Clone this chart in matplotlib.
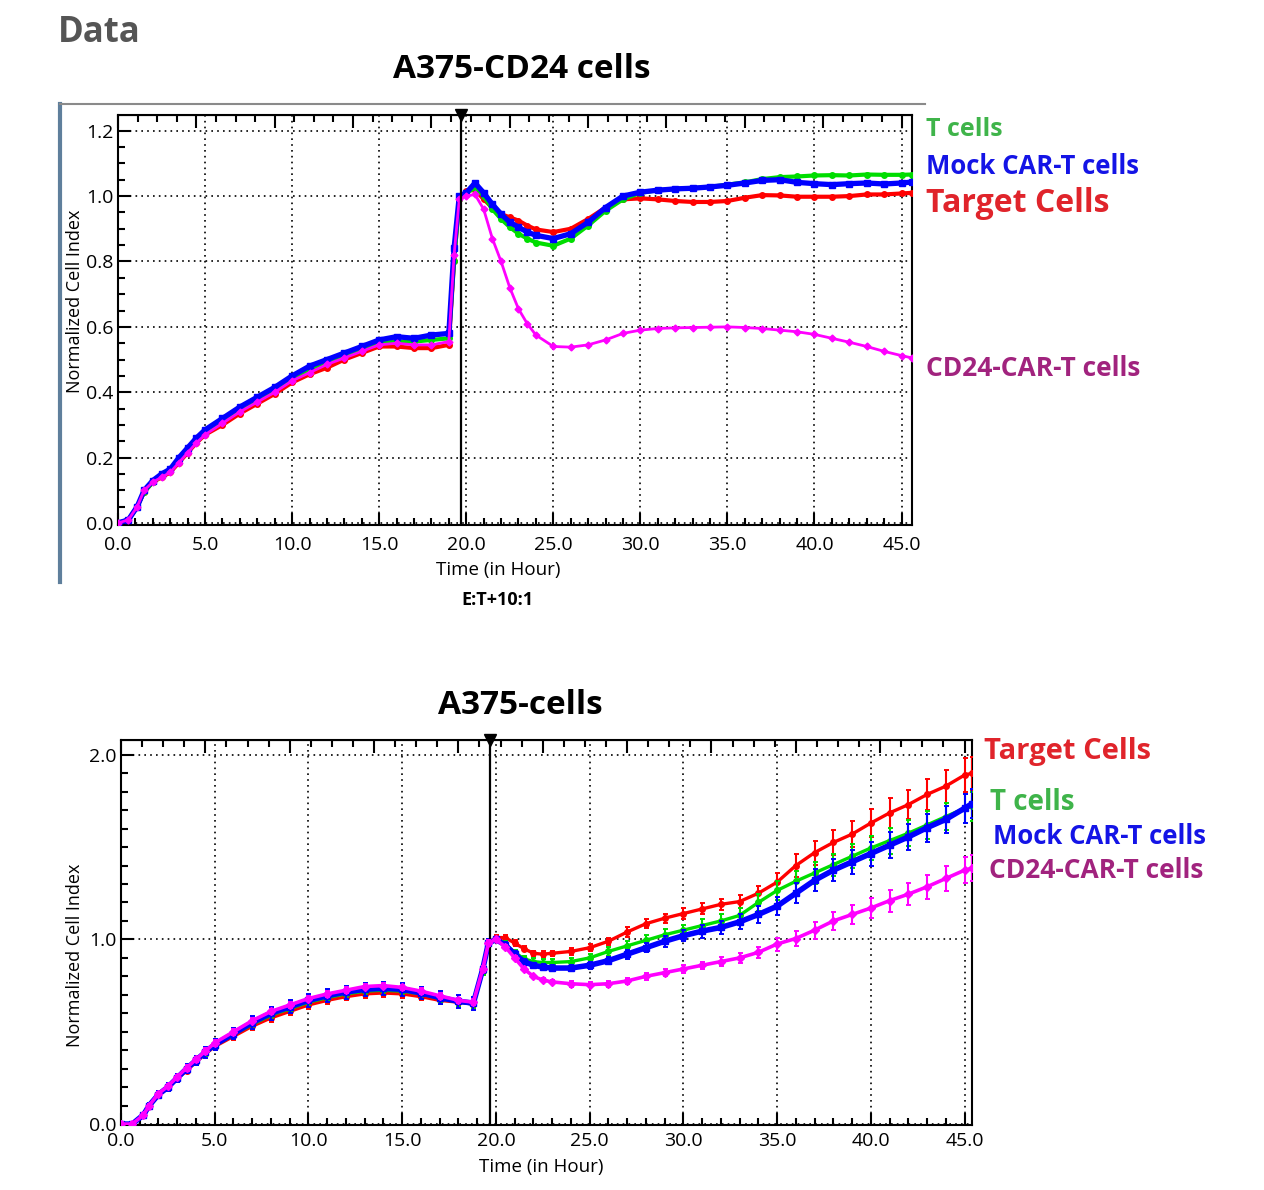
import numpy as np
import matplotlib
matplotlib.use("Agg")
import matplotlib.pyplot as plt
from matplotlib.ticker import MultipleLocator
from matplotlib.lines import Line2D

plt.rcParams['font.family'] = ['Open Sans', 'DejaVu Sans']

W, H = 1264, 1190

# ---- A375-CD24 cells (top panel), normalized cell index ----
t_cd24 = [0, 0.6, 1.1, 1.5, 2.0, 2.5, 3.0, 3.5, 4.0, 4.5,
          5.0, 6.0, 7.0, 8.0, 9.0, 10.0, 11.0, 12.0, 13.0, 14.0,
          15.0, 16.0, 17.0, 18.0, 19.0, 19.3, 19.6, 20.0, 20.5, 21.0,
          21.5, 22.0, 22.5, 23.0, 23.5, 24.0, 25.0, 26.0, 27.0, 28.0,
          29.0, 30.0, 31.0, 32.0, 33.0, 34.0, 35.0, 36.0, 37.0, 38.0,
          39.0, 40.0, 41.0, 42.0, 43.0, 44.0, 45.0, 45.6]
cd24_target = [0.00, 0.01, 0.05, 0.095, 0.125, 0.14, 0.155, 0.185, 0.215, 0.245,
               0.27, 0.30, 0.335, 0.365, 0.395, 0.43, 0.455, 0.475, 0.50, 0.52,
               0.54, 0.54, 0.535, 0.535, 0.545, 0.80, 0.99, 1.015, 1.02, 0.99,
               0.965, 0.945, 0.935, 0.925, 0.91, 0.898, 0.89, 0.90, 0.93, 0.965,
               0.99, 0.993, 0.99, 0.985, 0.982, 0.982, 0.985, 0.995, 1.003, 1.002,
               0.998, 0.998, 0.998, 1.00, 1.005, 1.005, 1.008, 1.01]
cd24_tcell = [0.00, 0.01, 0.05, 0.095, 0.125, 0.145, 0.16, 0.19, 0.22, 0.25,
              0.275, 0.31, 0.345, 0.375, 0.405, 0.44, 0.47, 0.49, 0.51, 0.53,
              0.55, 0.555, 0.555, 0.56, 0.565, 0.80, 0.99, 1.01, 1.025, 1.00,
              0.96, 0.93, 0.905, 0.885, 0.87, 0.858, 0.848, 0.87, 0.91, 0.955,
              0.99, 1.01, 1.018, 1.022, 1.024, 1.028, 1.035, 1.042, 1.052, 1.058,
              1.06, 1.063, 1.064, 1.063, 1.066, 1.065, 1.065, 1.066]
cd24_mock = [0.00, 0.01, 0.05, 0.10, 0.13, 0.15, 0.165, 0.20, 0.23, 0.26,
             0.285, 0.32, 0.355, 0.385, 0.415, 0.45, 0.48, 0.50, 0.52, 0.54,
             0.56, 0.57, 0.565, 0.575, 0.58, 0.84, 1.00, 1.01, 1.04, 1.01,
             0.975, 0.945, 0.92, 0.905, 0.89, 0.88, 0.87, 0.885, 0.92, 0.965,
             1.00, 1.012, 1.018, 1.022, 1.024, 1.028, 1.033, 1.04, 1.048, 1.05,
             1.042, 1.038, 1.035, 1.038, 1.04, 1.037, 1.04, 1.043]
cd24_car = [0.00, 0.01, 0.05, 0.10, 0.125, 0.14, 0.155, 0.185, 0.215, 0.245,
            0.27, 0.305, 0.34, 0.37, 0.40, 0.435, 0.46, 0.485, 0.505, 0.525,
            0.545, 0.55, 0.545, 0.545, 0.555, 0.82, 0.99, 1.00, 1.005, 0.96,
            0.87, 0.80, 0.72, 0.655, 0.61, 0.575, 0.54, 0.538, 0.545, 0.56,
            0.58, 0.59, 0.595, 0.597, 0.598, 0.599, 0.60, 0.598, 0.595, 0.59,
            0.585, 0.577, 0.565, 0.553, 0.54, 0.525, 0.512, 0.505]

# ---- A375 cells (bottom panel), mean and SD ----
t_a375 = [0, 0.6, 1.2, 1.5, 2.0, 2.5, 3.0, 3.5, 4.0, 4.5,
          5.0, 6.0, 7.0, 8.0, 9.0, 10.0, 11.0, 12.0, 13.0, 14.0,
          15.0, 16.0, 17.0, 18.0, 18.8, 19.3, 19.6, 20.0, 20.5, 21.0,
          21.5, 22.0, 22.5, 23.0, 24.0, 25.0, 26.0, 27.0, 28.0, 29.0,
          30.0, 31.0, 32.0, 33.0, 34.0, 35.0, 36.0, 37.0, 38.0, 39.0,
          40.0, 41.0, 42.0, 43.0, 44.0, 45.0, 45.4]
a375_target = [0.00, 0.00, 0.05, 0.10, 0.155, 0.195, 0.245, 0.29, 0.335, 0.38,
               0.42, 0.475, 0.53, 0.575, 0.61, 0.645, 0.67, 0.69, 0.705, 0.71,
               0.705, 0.69, 0.67, 0.66, 0.65, 0.83, 0.98, 1.01, 1.01, 0.98,
               0.95, 0.925, 0.92, 0.925, 0.935, 0.955, 0.99, 1.04, 1.085, 1.115,
               1.14, 1.165, 1.19, 1.205, 1.25, 1.31, 1.40, 1.47, 1.525, 1.57,
               1.63, 1.685, 1.73, 1.785, 1.83, 1.89, 1.90]
a375_target_sd = [0.01, 0.01, 0.01, 0.01, 0.01, 0.01, 0.015, 0.015, 0.015, 0.015,
                  0.015, 0.02, 0.02, 0.02, 0.02, 0.02, 0.02, 0.02, 0.02, 0.02,
                  0.02, 0.02, 0.02, 0.02, 0.02, 0.02, 0.015, 0.015, 0.015, 0.015,
                  0.015, 0.015, 0.015, 0.015, 0.02, 0.02, 0.02, 0.025, 0.025, 0.025,
                  0.03, 0.03, 0.03, 0.035, 0.04, 0.05, 0.06, 0.065, 0.07, 0.07,
                  0.075, 0.08, 0.08, 0.085, 0.09, 0.09, 0.09]
a375_tcell = [0.00, 0.00, 0.05, 0.10, 0.16, 0.20, 0.25, 0.30, 0.34, 0.385,
              0.425, 0.485, 0.54, 0.59, 0.625, 0.66, 0.685, 0.705, 0.72, 0.725,
              0.72, 0.705, 0.68, 0.66, 0.65, 0.83, 0.98, 1.00, 0.975, 0.93,
              0.895, 0.88, 0.875, 0.875, 0.88, 0.90, 0.935, 0.965, 0.995, 1.025,
              1.05, 1.075, 1.10, 1.13, 1.20, 1.265, 1.315, 1.36, 1.405, 1.45,
              1.495, 1.535, 1.575, 1.62, 1.665, 1.71, 1.72]
a375_tcell_sd = [0.01, 0.01, 0.01, 0.01, 0.015, 0.015, 0.015, 0.015, 0.02, 0.02,
                 0.02, 0.02, 0.025, 0.025, 0.025, 0.025, 0.025, 0.025, 0.025, 0.025,
                 0.025, 0.025, 0.025, 0.025, 0.025, 0.02, 0.02, 0.015, 0.015, 0.015,
                 0.015, 0.02, 0.02, 0.02, 0.02, 0.02, 0.025, 0.025, 0.03, 0.03,
                 0.03, 0.035, 0.035, 0.04, 0.045, 0.05, 0.055, 0.06, 0.06, 0.065,
                 0.065, 0.07, 0.07, 0.075, 0.075, 0.08, 0.08]
a375_mock = [0.00, 0.00, 0.05, 0.10, 0.16, 0.20, 0.25, 0.30, 0.345, 0.39,
             0.43, 0.49, 0.55, 0.60, 0.635, 0.67, 0.695, 0.715, 0.73, 0.735,
             0.73, 0.71, 0.685, 0.665, 0.655, 0.84, 0.98, 1.00, 0.97, 0.92,
             0.88, 0.86, 0.85, 0.845, 0.845, 0.86, 0.885, 0.92, 0.955, 0.99,
             1.02, 1.045, 1.065, 1.095, 1.135, 1.18, 1.25, 1.32, 1.375, 1.42,
             1.465, 1.51, 1.555, 1.605, 1.65, 1.71, 1.735]
a375_mock_sd = [0.01, 0.01, 0.01, 0.015, 0.02, 0.02, 0.02, 0.025, 0.025, 0.03,
                0.03, 0.03, 0.035, 0.035, 0.035, 0.035, 0.035, 0.035, 0.035, 0.035,
                0.035, 0.035, 0.035, 0.035, 0.035, 0.02, 0.02, 0.015, 0.015, 0.015,
                0.015, 0.015, 0.015, 0.015, 0.015, 0.02, 0.02, 0.025, 0.025, 0.03,
                0.03, 0.035, 0.035, 0.04, 0.045, 0.05, 0.055, 0.06, 0.06, 0.065,
                0.065, 0.07, 0.07, 0.075, 0.075, 0.08, 0.08]
a375_car = [0.00, 0.00, 0.05, 0.10, 0.165, 0.205, 0.255, 0.305, 0.35, 0.395,
            0.44, 0.50, 0.56, 0.61, 0.645, 0.68, 0.705, 0.725, 0.745, 0.75,
            0.74, 0.72, 0.695, 0.67, 0.66, 0.84, 0.98, 1.00, 0.96, 0.90,
            0.84, 0.80, 0.78, 0.77, 0.76, 0.755, 0.76, 0.775, 0.80, 0.82,
            0.84, 0.86, 0.88, 0.90, 0.93, 0.975, 1.005, 1.05, 1.10, 1.135,
            1.17, 1.21, 1.245, 1.285, 1.33, 1.375, 1.385]
a375_car_sd = [0.01, 0.01, 0.01, 0.01, 0.01, 0.01, 0.01, 0.015, 0.015, 0.015,
               0.015, 0.015, 0.015, 0.015, 0.015, 0.015, 0.015, 0.015, 0.015, 0.015,
               0.015, 0.015, 0.015, 0.015, 0.015, 0.015, 0.015, 0.01, 0.01, 0.01,
               0.01, 0.01, 0.01, 0.01, 0.015, 0.015, 0.015, 0.015, 0.02, 0.02,
               0.02, 0.02, 0.025, 0.025, 0.03, 0.035, 0.04, 0.045, 0.05, 0.05,
               0.055, 0.06, 0.06, 0.065, 0.07, 0.07, 0.07]

treat_time = 19.7   # effector cells added

C_RED, C_GREEN, C_BLUE, C_MAG = "#ff0000", "#00dd00", "#0000ff", "#ff00ff"
LBL = {"red": "#e0242b", "green": "#3fb44a", "blue": "#1414e6", "purple": "#a1237e"}


def px_rect(l, t, r, b):
    return [l / W, 1 - b / H, (r - l) / W, (b - t) / H]


def ft(x, y, s, **kw):
    fig.text(x / W, 1 - y / H, s, **kw)


def style_axes(ax, xmax, ymin, ymax, ymajor, yminor, xpad):
    ax.set_xlim(0, xmax)
    ax.set_ylim(ymin, ymax)
    ax.xaxis.set_major_locator(MultipleLocator(5))
    ax.xaxis.set_minor_locator(MultipleLocator(1))
    ax.yaxis.set_major_locator(MultipleLocator(ymajor))
    ax.yaxis.set_minor_locator(MultipleLocator(yminor))
    ax.xaxis.set_major_formatter(lambda v, p: f"{v:.1f}")
    ax.yaxis.set_major_formatter(lambda v, p: f"{v:.1f}")
    ax.tick_params(which="both", direction="in", top=False, right=False,
                   labelsize=14, width=1.5)
    ax.tick_params(which="major", length=9)
    ax.tick_params(axis="x", which="major", pad=xpad)
    ax.tick_params(axis="y", which="major", pad=3)
    ax.tick_params(which="minor", length=5)
    ax.grid(True, which="major", color="black", ls=(0, (1, 2.5)), lw=1.2)
    for sp in ax.spines.values():
        sp.set_linewidth(1.5)
    # top axis carries the instrument sweep ticks
    sec = ax.secondary_xaxis("top")
    sec.xaxis.set_major_locator(MultipleLocator(4.5))
    sec.xaxis.set_minor_locator(MultipleLocator(1.125))
    sec.tick_params(which="both", direction="in", labeltop=False, width=1.5)
    sec.tick_params(which="major", length=9)
    sec.tick_params(which="minor", length=5)
    ax.axvline(treat_time, color="black", lw=1.6, zorder=6)
    ax.plot([treat_time], [ymax], marker="v", color="black", ms=8,
            clip_on=False, zorder=7)


fig = plt.figure(figsize=(W / 100, H / 100), dpi=100)

# ---------------- top panel ----------------
ax1 = fig.add_axes(px_rect(118, 115, 912, 525))
style_axes(ax1, 45.6, -0.006, 1.248, 0.2, 0.05, xpad=8)
ax1.plot(t_cd24, cd24_target, color=C_RED, lw=3, marker="o", ms=4, zorder=3)
ax1.plot(t_cd24, cd24_tcell, color=C_GREEN, lw=3, marker="o", ms=4, zorder=3)
ax1.plot(t_cd24, cd24_mock, color=C_BLUE, lw=3.8, marker="s", ms=5, zorder=4)
ax1.plot(t_cd24, cd24_car, color=C_MAG, lw=2, marker="D", ms=3.5, zorder=5)

# window frame around the top panel
fig.add_artist(Line2D([60 / W, 60 / W], [1 - 104 / H, 1 - 582 / H],
                      color="#5f7f9c", lw=3))
fig.add_artist(Line2D([60 / W, 925 / W], [1 - 104 / H, 1 - 104 / H],
                      color="#8a8a8a", lw=1.5))

# ---------------- bottom panel ----------------
ax2 = fig.add_axes(px_rect(121, 740, 972, 1125))
style_axes(ax2, 45.4, -0.005, 2.08, 1.0, 0.1, xpad=5)
series = [(a375_target, a375_target_sd, C_RED, "o", 4, 2.4),
          (a375_tcell, a375_tcell_sd, C_GREEN, "o", 4, 2.4),
          (a375_mock, a375_mock_sd, C_BLUE, "s", 5, 4.0),
          (a375_car, a375_car_sd, C_MAG, "D", 4, 2.6)]
for k, (y, sd, c, m, ms, lw) in enumerate(series):
    ax2.errorbar(t_a375, y, yerr=sd, color=c, lw=lw, marker=m, ms=ms,
                 elinewidth=1.5, capsize=1.8, capthick=1.4, zorder=3 + k)

# ---------------- texts ----------------
ft(58, 33, "Data", fontsize=25, fontweight="bold", color="#555555",
   ha="left", va="center")
ft(522, 70, "A375-CD24 cells", fontsize=24, fontweight="bold", ha="center", va="center")
ft(520, 705, "A375-cells", fontsize=24, fontweight="bold", ha="center", va="center")

ft(498, 570, "Time (in Hour)", fontsize=13.5, ha="center", va="center")
ft(497, 600, "E:T+10:1", fontsize=13, fontweight="bold", ha="center", va="center")
ft(541, 1167, "Time (in Hour)", fontsize=13.5, ha="center", va="center")
ft(75, 301, "Normalized Cell Index", fontsize=13, rotation=90, ha="center", va="center")
ft(75, 955, "Normalized Cell Index", fontsize=13, rotation=90, ha="center", va="center")

ft(926, 130, "T cells", fontsize=18, fontweight="bold", color=LBL["green"], va="center")
ft(926, 167, "Mock CAR-T cells", fontsize=18.5, fontweight="bold", color=LBL["blue"], va="center")
ft(926, 203, "Target Cells", fontsize=23, fontweight="bold", color=LBL["red"], va="center")
ft(926, 369, "CD24-CAR-T cells", fontsize=19, fontweight="bold", color=LBL["purple"], va="center")

ft(984, 751, "Target Cells", fontsize=21, fontweight="bold", color=LBL["red"], va="center")
ft(990, 802, "T cells", fontsize=20, fontweight="bold", color=LBL["green"], va="center")
ft(993, 837, "Mock CAR-T cells", fontsize=18.5, fontweight="bold", color=LBL["blue"], va="center")
ft(989, 870, "CD24-CAR-T cells", fontsize=19, fontweight="bold", color=LBL["purple"], va="center")

fig.savefig("out.png", dpi=100)
